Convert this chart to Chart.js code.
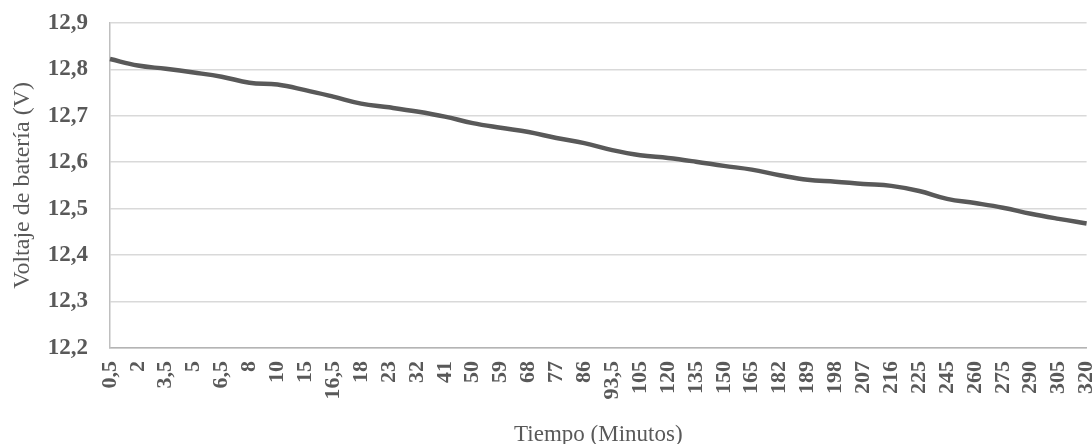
<!DOCTYPE html>
<html lang="es">
<head>
    <meta charset="UTF-8">
    <title>Voltaje de batería</title>
    <script src="https://cdn.jsdelivr.net/npm/chart.js@4.4.0/dist/chart.umd.min.js"></script>
    <style>
        html, body { margin: 0; padding: 0; background: #fff; overflow: hidden; }
        .wrap { width: 1126px; height: 457px; margin-top: -13px; position: relative; }
    </style>
</head>
<body>
    <div class="wrap">
        <canvas id="graphVoltaje"></canvas>
    </div>

    <script>
        // tiempos (minutos) tal como salen en el eje
        const tiempos = ['0,5', '2', '3,5', '5', '6,5', '8', '10', '15', '16,5', '18', '23', '32',
            '41', '50', '59', '68', '77', '86', '93,5', '105', '120', '135', '150', '165',
            '182', '189', '198', '207', '216', '225', '245', '260', '275', '290', '305', '320'];

        // voltaje medido (V)
        const voltaje = [12.822, 12.808, 12.801, 12.793, 12.784, 12.771, 12.767, 12.755, 12.741, 12.726, 12.718, 12.709,
            12.698, 12.684, 12.674, 12.665, 12.652, 12.641, 12.626, 12.615, 12.609, 12.601, 12.592, 12.584,
            12.572, 12.562, 12.558, 12.553, 12.549, 12.538, 12.521, 12.512, 12.502, 12.489, 12.478, 12.468];

        const gris = '#595959';
        const serif = '"Liberation Serif", "Times New Roman", serif';

        new Chart(document.getElementById('graphVoltaje').getContext('2d'), {
            type: 'line',
            data: {
                labels: tiempos,
                datasets: [{
                    label: 'Voltaje',
                    data: voltaje,
                    borderColor: gris,
                    borderWidth: 4.5,
                    fill: false,
                    tension: 0.4,
                    pointRadius: 0
                }]
            },
            options: {
                responsive: true,
                maintainAspectRatio: false,
                animation: false,
                layout: { padding: 0 },
                plugins: {
                    legend: { display: false },
                    tooltip: { enabled: false }
                },
                scales: {
                    x: {
                        offset: false,
                        grid: { display: false, drawTicks: false },
                        border: { color: '#b4b4b4', width: 1.5 },
                        ticks: {
                            autoSkip: false,
                            maxRotation: 90,
                            minRotation: 90,
                            padding: 13,
                            color: gris,
                            font: { family: serif, size: 22, weight: 'bold' }
                        },
                        title: {
                            display: true,
                            text: 'Tiempo (Minutos)',
                            color: gris,
                            padding: { top: 0, bottom: -2 },
                            font: { family: serif, size: 23, lineHeight: 1 }
                        },
                        afterFit: function(axis) { axis.height = 96; }
                    },
                    y: {
                        min: 12.2,
                        max: 12.9,
                        grid: { color: '#d9d9d9', lineWidth: 1.4, drawTicks: false },
                        border: { color: '#bfbfbf', width: 1.5 },
                        ticks: {
                            stepSize: 0.1,
                            padding: 22,
                            color: gris,
                            font: { family: serif, size: 23, weight: 'bold' },
                            callback: function(value) {
                                return value.toFixed(1).replace('.', ',');
                            }
                        },
                        title: {
                            display: true,
                            text: 'Voltaje de batería (V)',
                            color: gris,
                            padding: { top: 8, bottom: 0 },
                            font: { family: serif, size: 24 }
                        },
                        afterFit: function(axis) { axis.width = 110; }
                    }
                }
            }
        });
    </script>
</body>
</html>
